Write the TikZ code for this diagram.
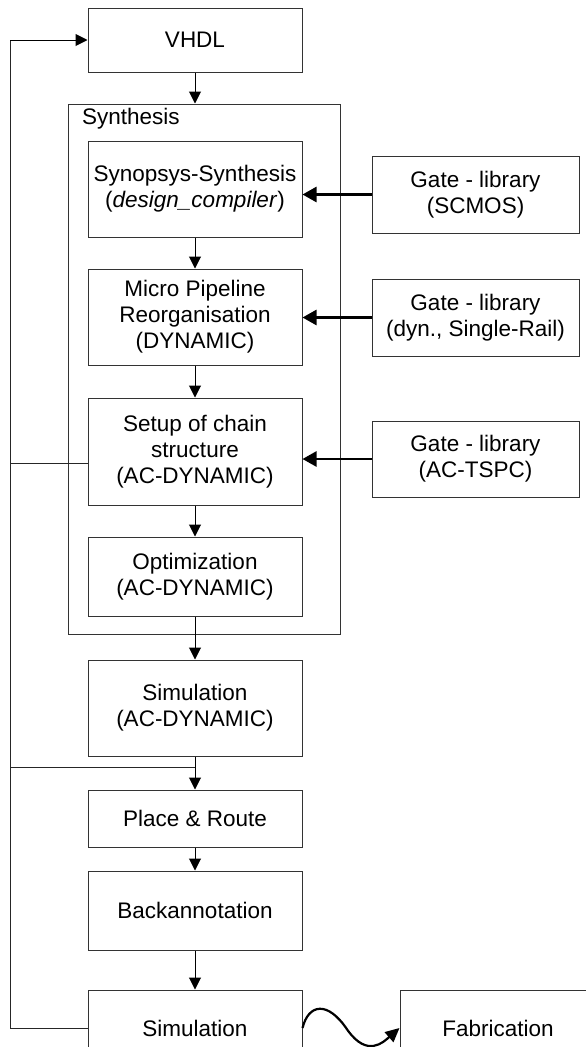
\documentclass[tikz,border=0pt]{standalone}
\usepackage{fontspec}
\setmainfont{Liberation Sans}
\usetikzlibrary{arrows.meta}
\begin{document}
\begin{tikzpicture}[x=1pt,y=-1pt,
  font=\fontsize{22.5}{26}\selectfont,
  box/.style={draw=black!80, line width=1pt, fill=white, inner sep=0pt,
              align=center, minimum width=214pt},
  libbox/.style={box, minimum width=207pt},
  flow/.style={draw=black, line width=1pt, -{Triangle[length=12pt,width=12pt]}},
  feed/.style={draw=black!85, line width=1pt},
  libarrow/.style={draw=black, line width=2.6pt, -{Triangle[length=14pt,width=15pt]}}]
\useasboundingbox (0,0) rectangle (586,1047);
\clip (0,0) rectangle (586,1047);

% outer synthesis frame and its title
\node[draw=black!80, line width=1pt, inner sep=0pt, minimum width=272pt, minimum height=530pt]
  (synth) at (204,369) {};
\node[anchor=west, inner sep=0pt] (synthlbl) at (82,119) {Synthesis};

% main flow
\node[box, minimum height=64pt]  (vhdl)  at (195,40)    {VHDL};
\node[box, minimum height=96pt]  (syn)   at (195,189)   {Synopsys-Synthesis\\(\textit{design\_compiler})};
\node[box, minimum height=96pt]  (micro) at (195,317)   {Micro Pipeline\\Reorganisation\\(DYNAMIC)};
\node[box, minimum height=107pt] (setup) at (195,451.5) {Setup of chain\\structure\\(AC-DYNAMIC)};
\node[box, minimum height=79pt]  (opt)   at (195,576.5) {Optimization\\(AC-DYNAMIC)};
\node[box, minimum height=96pt]  (sima)  at (195,708)   {Simulation\\(AC-DYNAMIC)};
\node[box, minimum height=57pt]  (pr)    at (195,818.5) {Place \& Route};
\node[box, minimum height=79pt]  (back)  at (195,910.5) {Backannotation};
\node[box, minimum height=76pt]  (simb)  at (195,1028)  {Simulation};
\node[box, minimum width=196pt, minimum height=76pt] (fab) at (498,1028) {Fabrication};

% gate libraries
\node[libbox, minimum height=77pt] (lib1) at (475.5,194.5) {Gate - library\\(SCMOS)};
\node[libbox, minimum height=77pt] (lib2) at (475.5,317.5) {Gate - library\\(dyn., Single-Rail)};
\node[libbox, minimum height=76pt] (lib3) at (475.5,459)   {Gate - library\\(AC-TSPC)};

% downward flow
\draw[flow] (vhdl.south) -- (synth.north -| vhdl.south);
\draw[flow] (syn) -- (micro);
\draw[flow] (micro) -- (setup);
\draw[flow] (setup) -- (opt);
\draw[flow] (opt) -- (sima);
\draw[flow] (sima) -- (pr);
\draw[flow] (pr) -- (back);
\draw[flow] (back) -- (simb);

% libraries feeding the synthesis steps
\draw[libarrow] (lib1.west) -- (lib1.west -| syn.east);
\draw[libarrow] (lib2.west) -- (lib2.west -| micro.east);
\draw[libarrow] (lib3.west) -- (lib3.west -| setup.east);

% feedback lines on the left
\coordinate (rail) at (10,0);
\coordinate (setupout) at (88,463);
\coordinate (prjoin) at (195,767);
\draw[feed] (simb.west) -- (simb.west -| rail) -- (vhdl.west -| rail);
\draw[flow] (vhdl.west -| rail) -- (vhdl.west);
\draw[feed] (setupout) -- (setupout -| rail);
\draw[feed] (prjoin -| rail) -- (prjoin);

% wavy hand-over to fabrication
\draw[draw=black, line width=2.2pt, -{Triangle[length=14pt,width=13pt]}]
  (simb.east) .. controls +(6,-24) and +(-20,-30) .. ++(45,2)
  .. controls +(20,28) and +(-16,14) .. (fab.west);
\end{tikzpicture}
\end{document}
